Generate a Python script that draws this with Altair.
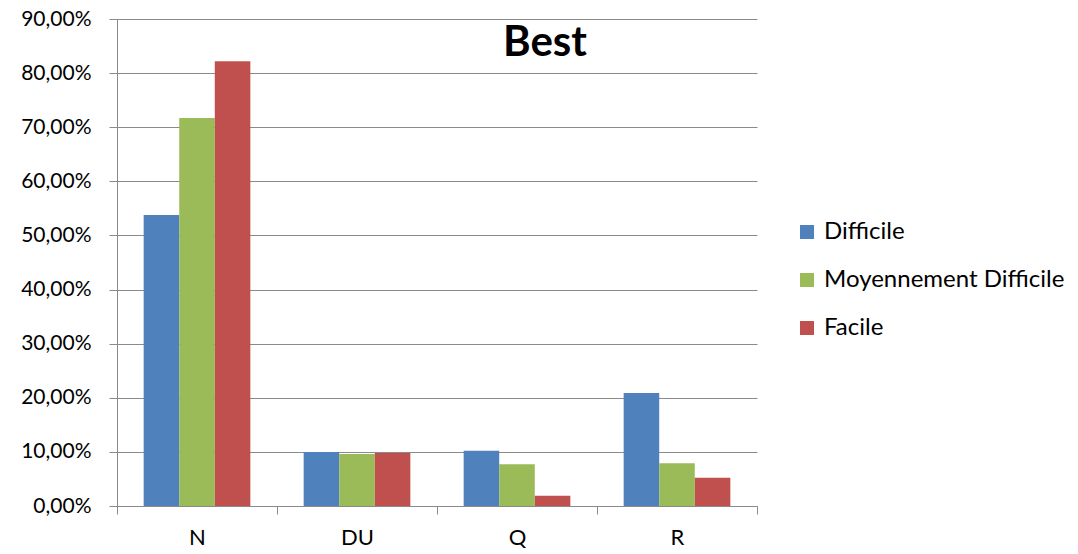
import altair as alt
import pandas as pd

categories = ["N", "DU", "Q", "R"]
series = ["Difficile", "Moyennement Difficile", "Facile"]
difficile = [0.538, 0.100, 0.102, 0.209]
moyen = [0.717, 0.096, 0.077, 0.079]
facile = [0.822, 0.098, 0.019, 0.052]
colors = ["#4F81BD", "#9BBB59", "#C0504D"]
y_ticks = [0, 0.1, 0.2, 0.3, 0.4, 0.5, 0.6, 0.7, 0.8, 0.9]
title_text = ["Best"]

rows = []
for s, vals in zip(series, [difficile, moyen, facile]):
    for c, v in zip(categories, vals):
        rows.append({"cat": c, "serie": s, "val": v})
df = pd.DataFrame(rows)

FONT = "Lato"
GRID = "#8a8a8a"
FS = 22

bars = alt.Chart(df).mark_bar().encode(
    x=alt.X("cat:N", sort=categories, title=None,
            scale=alt.Scale(paddingInner=0, paddingOuter=0),
            axis=alt.Axis(labelAngle=0, tickBand="extent", tickSize=8, tickColor=GRID,
                          domainColor=GRID, labelFontSize=FS, labelFont=FONT,
                          labelColor="#000", labelPadding=13, grid=False)),
    xOffset=alt.XOffset("serie:N", sort=series,
                        scale=alt.Scale(paddingInner=0, paddingOuter=0.75)),
    y=alt.Y("val:Q", title=None, scale=alt.Scale(domain=[0, 0.9], nice=False),
            axis=alt.Axis(values=y_ticks, labelExpr="replace(format(datum.value, '.2%'), '.', ',')",
                          tickSize=8, tickColor=GRID, domainColor=GRID, gridColor=GRID,
                          labelFontSize=21, labelFont=FONT, labelColor="#000", labelPadding=18)),
    color=alt.Color("serie:N", sort=series, scale=alt.Scale(domain=series, range=colors),
                    legend=alt.Legend(title=None, orient="none", legendX=678, legendY=201,
                                      symbolType="square", symbolSize=196, symbolStrokeWidth=0,
                                      labelFontSize=24, labelFont=FONT, labelColor="#000",
                                      labelLimit=0, rowPadding=24, labelOffset=5, padding=0)),
)

title = alt.Chart(pd.DataFrame({"t": title_text})).mark_text(
    font=FONT, fontSize=42, fontWeight="bold", color="#000", align="center", baseline="middle"
).encode(text="t:N", x=alt.value(428), y=alt.value(24))

chart = alt.layer(bars, title).properties(
    width=640, height=487,
    autosize=alt.AutoSizeParams(type="none"),
    padding={"left": 109, "top": 11, "right": 310, "bottom": 46},
).configure_view(stroke=None)

chart.save("out.html", embed_options={"renderer": "svg", "actions": False})
